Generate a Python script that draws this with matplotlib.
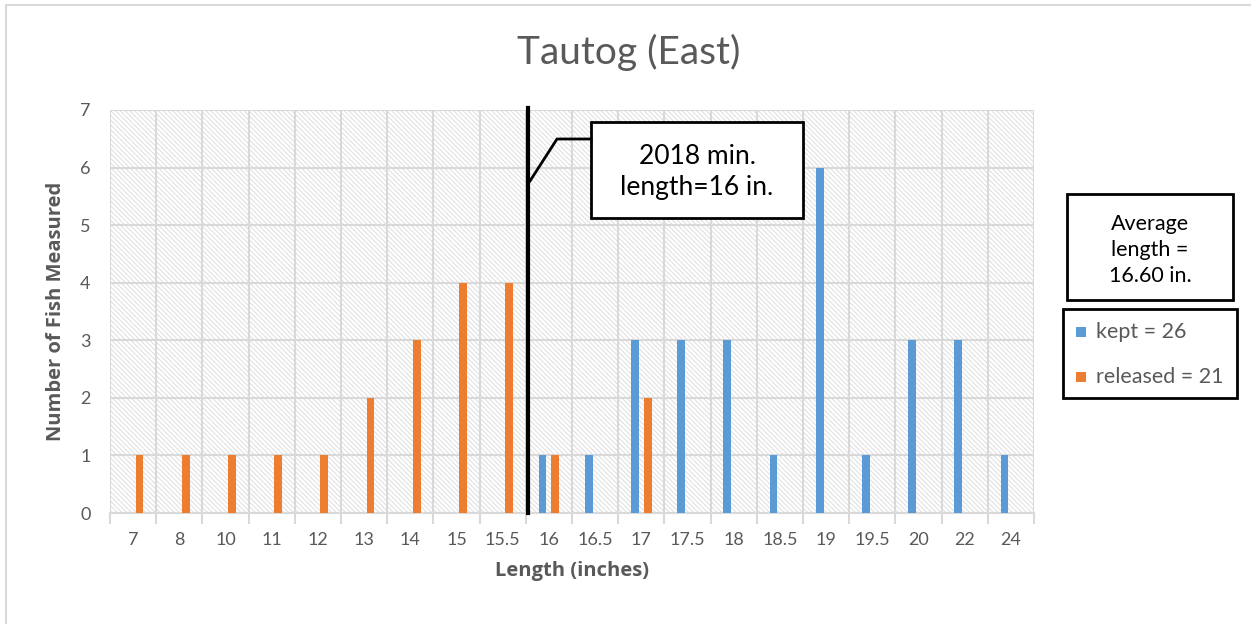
import matplotlib.pyplot as plt
from matplotlib.patches import Rectangle
from matplotlib.lines import Line2D
import numpy as np

plt.rcParams['font.family'] = ['Lato', 'DejaVu Sans']
plt.rcParams['hatch.linewidth'] = 0.7
plt.rcParams['hatch.color'] = "#DEDEDE"

lengths = ["7", "8", "10", "11", "12", "13", "14", "15", "15.5", "16",
           "16.5", "17", "17.5", "18", "18.5", "19", "19.5", "20", "22", "24"]
kept = [0, 0, 0, 0, 0, 0, 0, 0, 0, 1, 1, 3, 3, 3, 1, 6, 1, 3, 3, 1]
released = [1, 1, 1, 1, 1, 2, 3, 4, 4, 1, 0, 2, 0, 0, 0, 0, 0, 0, 0, 0]

blue = "#5B9BD5"
orange = "#ED7D31"
grey = "#595959"
gridc = "#D9D9D9"

fig = plt.figure(figsize=(12.51, 6.24), dpi=100)
ax = fig.add_axes([110 / 1251, 1 - 513 / 624, 924 / 1251, 403 / 624])

x = np.arange(len(lengths))
w = 0.17
ax.set_xlim(-0.5, len(lengths) - 0.5)
ax.set_ylim(0, 7)

# hatched plot background
ax.add_patch(Rectangle((-0.5, 0), len(lengths), 7, facecolor="white",
                       edgecolor="#DEDEDE", hatch="\\" * 7, linewidth=0, zorder=0))

for i in range(len(lengths) + 1):
    ax.axvline(i - 0.5, color=gridc, lw=1.5, zorder=1)
for j in range(8):
    ax.axhline(j, color=gridc, lw=1.5, zorder=1)

ax.bar(x - 0.14, kept, w, color=blue, zorder=3)
ax.bar(x + 0.14, released, w, color=orange, zorder=3)

ax.axvline(8.55, ymin=0, ymax=1.005, color="black", lw=3, zorder=4, clip_on=False)

for s in ax.spines.values():
    s.set_visible(False)
ax.spines['bottom'].set_visible(True)
ax.spines['bottom'].set_color(gridc)
ax.spines['bottom'].set_linewidth(1.5)

ax.set_xticks(x)
ax.set_xticklabels(lengths)
ax.set_xticks(np.arange(len(lengths) + 1) - 0.5, minor=True)
ax.tick_params(axis='x', which='major', length=0, pad=14, labelsize=13, labelcolor=grey)
ax.tick_params(axis='x', which='minor', length=8, width=1.5, color=gridc)
ax.set_yticks(range(8))
ax.tick_params(axis='y', length=0, pad=14, labelsize=13, labelcolor=grey)

ax.set_xlabel("Length (inches)", fontsize=14.5, fontweight='bold', color=grey,
              labelpad=9, family=['Open Sans', 'DejaVu Sans'])
ax.set_ylabel("Number of Fish Measured", fontsize=14.5, fontweight='bold', color=grey,
              labelpad=10, family=['Open Sans', 'DejaVu Sans'])

fig.text(629 / 1251, 1 - 52 / 624, "Tautog (East)", fontsize=28, color=grey,
         ha='center', va='center')

# callout
fig.add_artist(Line2D([530 / 1251, 557 / 1251, 591 / 1251],
                      [1 - 181 / 624, 1 - 139 / 624, 1 - 139 / 624],
                      color="black", lw=2))
fig.add_artist(Rectangle((591 / 1251, 1 - 218 / 624), 212 / 1251, 96 / 624,
                         facecolor="white", edgecolor="black", lw=2))
fig.text(697 / 1251, 1 - 172 / 624, "2018 min.\nlength=16 in.", fontsize=19,
         ha='center', va='center', linespacing=1.35)

# average box
fig.add_artist(Rectangle((1067 / 1251, 1 - 300 / 624), 166 / 1251, 106 / 624,
                         facecolor="white", edgecolor="black", lw=2))
fig.text(1150 / 1251, 1 - 250 / 624, "Average\nlength =\n16.60 in.", fontsize=15.5,
         ha='center', va='center', linespacing=1.35)

# legend box
fig.add_artist(Rectangle((1063 / 1251, 1 - 398 / 624), 174 / 1251, 89 / 624,
                         facecolor="white", edgecolor="black", lw=2))
fig.add_artist(Rectangle((1076 / 1251, 1 - 337 / 624), 10 / 1251, 10 / 624,
                         facecolor=blue, edgecolor="none"))
fig.text(1096 / 1251, 1 - 332 / 624, "kept = 26", fontsize=15.5, color=grey, va='center')
fig.add_artist(Rectangle((1076 / 1251, 1 - 382 / 624), 10 / 1251, 10 / 624,
                         facecolor=orange, edgecolor="none"))
fig.text(1096 / 1251, 1 - 377 / 624, "released = 21", fontsize=15.5, color=grey, va='center')

# outer border (left and top)
fig.add_artist(Line2D([5.5 / 1251, 5.5 / 1251, 1], [0, 1 - 4.5 / 624, 1 - 4.5 / 624],
                      color=gridc, lw=1.5))

fig.savefig("out.png", dpi=100)
